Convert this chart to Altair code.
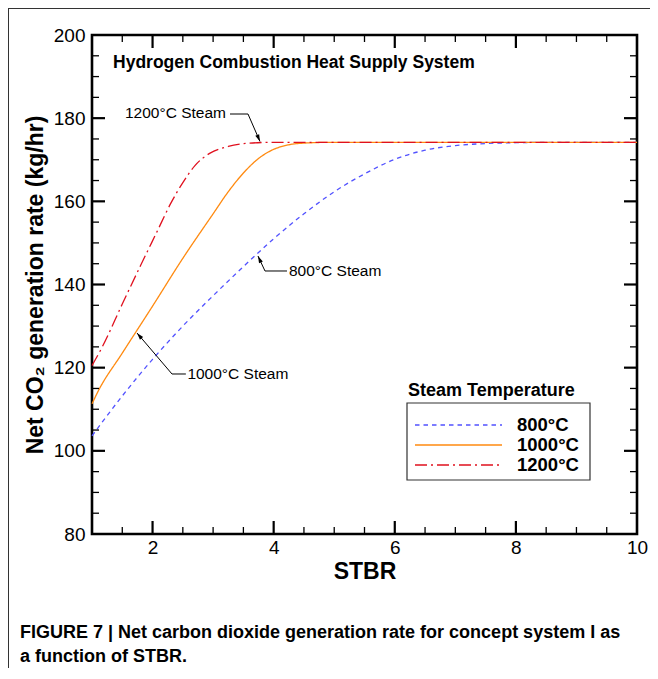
import altair as alt
import pandas as pd

# ---- data ----
series = ["800°C", "1000°C", "1200°C"]

stbr_800 = [1.0, 1.5, 2.0, 2.5, 3.0, 3.5, 4.0, 4.5, 5.0, 5.5, 6.0, 6.5, 7.0, 7.5, 8.0, 8.5, 9.0, 10.0]
co2_800 = [103.6, 113.2, 122.0, 130.0, 137.3, 144.3, 151.0, 157.0, 162.3, 166.6, 170.1, 172.3, 173.4, 173.9, 174.1, 174.2, 174.2, 174.2]

stbr_1000 = [1.0, 1.1, 1.5, 2.0, 2.5, 3.0, 3.25, 3.5, 3.75, 4.0, 4.25, 4.5, 5.0, 6.0, 10.0]
co2_1000 = [111.3, 114.3, 123.5, 134.8, 146.3, 157.0, 162.3, 166.8, 170.3, 172.5, 173.6, 174.0, 174.2, 174.2, 174.2]

stbr_1200 = [1.0, 1.17, 1.5, 1.8, 2.07, 2.3, 2.5, 2.7, 2.95, 3.25, 3.6, 4.0, 10.0]
co2_1200 = [120.5, 125.0, 135.3, 144.5, 152.6, 159.5, 164.5, 168.6, 171.6, 173.2, 174.0, 174.2, 174.2]

x_major = [2, 4, 6, 8]
x_minor = [1.5, 2.5, 3, 3.5, 4.5, 5, 5.5, 6.5, 7, 7.5, 8.5, 9, 9.5]
y_major = [100, 120, 140, 160, 180]
y_minor = [85, 90, 95, 105, 110, 115, 125, 130, 135, 145, 150, 155, 165, 170, 175, 185, 190, 195]
x_labels = [2, 4, 6, 8, 10]
y_labels = [80, 100, 120, 140, 160, 180, 200]

colors = ["#5252ff", "#ff8a10", "#e0101e"]
dashes = [[4.5, 4], [1, 0], [12, 4, 2, 4]]

W, H = 545, 499
FONT = "Liberation Sans"

df = pd.concat([
    pd.DataFrame({"stbr": stbr_800, "co2": co2_800, "series": series[0]}),
    pd.DataFrame({"stbr": stbr_1000, "co2": co2_1000, "series": series[1]}),
    pd.DataFrame({"stbr": stbr_1200, "co2": co2_1200, "series": series[2]}),
])

xs = alt.Scale(domain=[1, 10], nice=False, zero=False)
ys = alt.Scale(domain=[80, 200], nice=False, zero=False)
cs = alt.Scale(domain=series, range=colors)
ds = alt.Scale(domain=series, range=dashes)

x_axis = alt.Axis(
    values=x_labels, ticks=False, domain=False, grid=False, labelFlush=False,
    labelFontSize=19, labelPadding=4, labelColor="black",
    title="STBR", titleFontSize=23, titleFontWeight="bold", titlePadding=3, titleColor="black")
y_axis = alt.Axis(
    values=y_labels, ticks=False, domain=False, grid=False,
    labelFontSize=19, labelPadding=7, labelColor="black",
    title="Net CO₂ generation rate (kg/hr)", titleFontSize=23, titleFontWeight="bold",
    titlePadding=6, titleColor="black")

X = alt.X("stbr:Q", scale=xs, axis=x_axis)
Y = alt.Y("co2:Q", scale=ys, axis=y_axis)

lines = alt.Chart(df).mark_line(strokeWidth=1.3, interpolate="monotone").encode(
    x=X, y=Y,
    color=alt.Color("series:N", scale=cs, legend=None),
    strokeDash=alt.StrokeDash("series:N", scale=ds, legend=None),
    detail="series:N",
)

def xticks(vals, L, sw):
    d = pd.DataFrame({"stbr": vals})
    b = alt.Chart(d).mark_rule(color="black", strokeWidth=sw)
    return (b.encode(x=X, y=alt.value(H), y2=alt.value(H - L))
            + b.encode(x=X, y=alt.value(0), y2=alt.value(L)))

def yticks(vals, L, sw):
    d = pd.DataFrame({"co2": vals})
    b = alt.Chart(d).mark_rule(color="black", strokeWidth=sw)
    return (b.encode(y=Y, x=alt.value(0), x2=alt.value(L))
            + b.encode(y=Y, x=alt.value(W), x2=alt.value(W - L)))

ticks = (xticks(x_major, 13, 2.2) + xticks(x_minor, 7, 1.3)
         + yticks(y_major, 13, 2.2) + yticks(y_minor, 7, 1.3))

# ---- annotations (placed in data coordinates) ----
ann_text = pd.DataFrame({
    "stbr": [1.545, 4.253, 2.575],
    "co2": [181.25, 143.25, 118.48],
    "label": ["1200°C Steam", "800°C Steam", "1000°C Steam"],
})
texts = alt.Chart(ann_text).mark_text(align="left", baseline="middle", fontSize=15.5, font=FONT, color="black").encode(
    x=X, y=Y, text="label:N")

leaders_df = pd.DataFrame({
    "id": ["a", "a", "a", "b", "b", "b", "c", "c", "c"],
    "stbr": [3.279, 3.576, 3.774, 4.22, 3.857, 3.741, 2.55, 2.321, 1.743],
    "co2": [181.0, 181.0, 174.4, 143.25, 143.25, 146.85, 118.48, 118.48, 128.34],
})
leaders = alt.Chart(leaders_df).mark_line(color="black", strokeWidth=1).encode(x=X, y=Y, detail="id:N")

heads_df = pd.DataFrame({"stbr": [3.774, 3.741, 1.743], "co2": [174.4, 146.85, 128.34], "ang": [156.8, 335.0, 319.5]})
heads = alt.Chart(heads_df).mark_point(shape="M0,0L0.6,2L-0.6,2Z", filled=True, size=49, color="black", opacity=1).encode(
    x=X, y=Y, angle=alt.Angle("ang:Q", scale=None))

inner_title = alt.Chart(pd.DataFrame({"stbr": [1.347], "co2": [193.3]})).mark_text(
    align="left", baseline="middle", fontSize=17.5, fontWeight="bold", font=FONT, color="black",
    text="Hydrogen Combustion Heat Supply System").encode(x=X, y=Y)

# ---- legend ----
one = pd.DataFrame({"k": [0]})
leg_title = alt.Chart(one).mark_text(align="left", baseline="middle", fontSize=18, fontWeight="bold",
                                     font=FONT, color="black", text="Steam Temperature").encode(
    x=alt.value(316), y=alt.value(356))
leg_box = alt.Chart(one).mark_rect(fill="white", stroke="#333333", strokeWidth=1.2).encode(
    x=alt.value(315), x2=alt.value(498), y=alt.value(368), y2=alt.value(445))
leg_items = []
for i, (s, c, d) in enumerate(zip(series, colors, dashes)):
    yy = 390 + 20 * i
    leg_items.append(alt.Chart(one).mark_rule(color=c, strokeDash=d, strokeWidth=1.3).encode(
        x=alt.value(323), x2=alt.value(410), y=alt.value(yy)))
    leg_items.append(alt.Chart(one).mark_text(align="left", baseline="middle", fontSize=18.5, fontWeight="bold",
                                              font=FONT, color="black", text=s).encode(
        x=alt.value(425), y=alt.value(yy)))

# ---- page decorations: figure frame and caption ----
frame_left = alt.Chart(one).mark_rule(color="#333333", strokeWidth=1).encode(
    x=alt.value(-83.5), y=alt.value(-27), y2=alt.value(H + 140))
frame_top = alt.Chart(one).mark_rule(color="#333333", strokeWidth=1).encode(
    x=alt.value(-84), x2=alt.value(W + 13), y=alt.value(-26.5))
cap1 = alt.Chart(one).mark_text(align="left", baseline="middle", fontSize=18, fontWeight="bold", font=FONT,
                                color="black",
                                text="FIGURE 7 | Net carbon dioxide generation rate for concept system I as").encode(
    x=alt.value(-72), y=alt.value(598))
cap2 = alt.Chart(one).mark_text(align="left", baseline="middle", fontSize=18, fontWeight="bold", font=FONT,
                                color="black", text="a function of STBR.").encode(
    x=alt.value(-72), y=alt.value(622))

chart = alt.layer(
    lines, ticks, leaders, heads, texts, inner_title,
    leg_title, leg_box, *leg_items,
    frame_left, frame_top, cap1, cap2,
).properties(
    width=W, height=H,
    autosize=alt.AutoSizeParams(type="none"),
    padding={"left": 84, "top": 27, "right": 13, "bottom": 134},
).configure(
    font=FONT,
    view=alt.ViewConfig(stroke="black", strokeWidth=2.6),
)

chart.save("out.html", embed_options={"renderer": "svg", "actions": False})
